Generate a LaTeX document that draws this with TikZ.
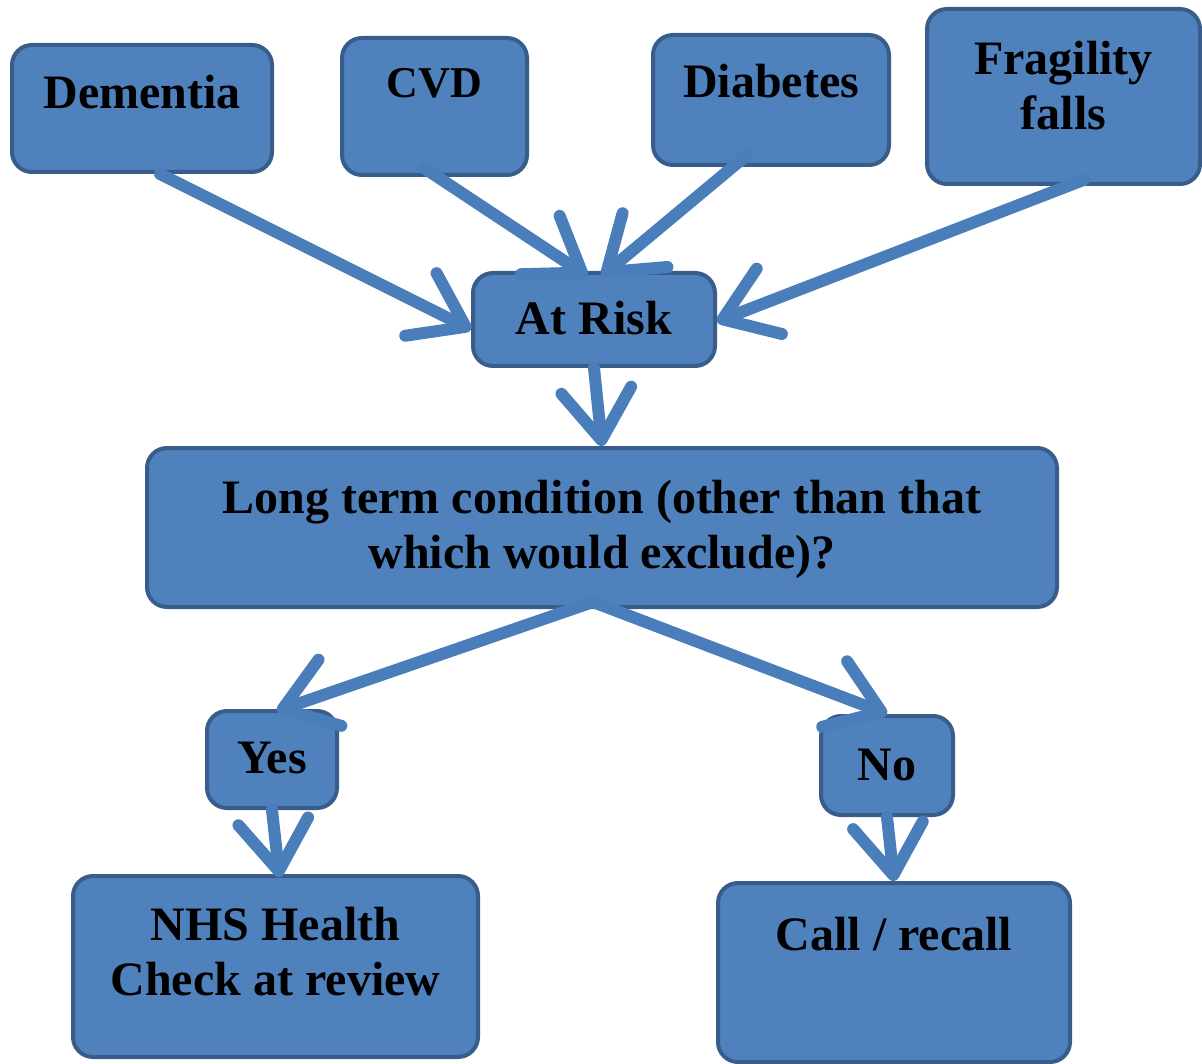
\documentclass[tikz,border=0pt]{standalone}
\usepackage{fontspec}
\setmainfont{Liberation Serif}
\usetikzlibrary{arrows.meta,calc,positioning}
\definecolor{boxFill}{HTML}{4F81BD}
\definecolor{boxEdge}{HTML}{385D8A}
\definecolor{arrowBlue}{HTML}{4A7EBB}
\tikzset{
    flowbox/.style={draw=boxEdge,fill=boxFill,line width=4pt,rounded corners=20pt,inner sep=0pt},
    boxtext/.style={anchor=base,align=center,inner sep=0pt,font=\fontsize{48}{55}\selectfont\bfseries},
    flowarrow/.style={draw=arrowBlue,line width=12pt,line cap=round,
        -{Straight Barb[length=50pt,width=70pt,line width=12pt,round]}}
}
\newcommand\FLOWBOX[7] {
    % #1 name, #2..#5 left top right bottom, #6 last baseline, #7 text
    \pgfmathsetmacro{\bw}{#4-#2}
    \pgfmathsetmacro{\bh}{#5-#3}
    \pgfmathsetmacro{\cx}{(#2+#4)/2}
    \pgfmathsetmacro{\cy}{(#3+#5)/2}
    \node[flowbox,minimum width=\bw pt,minimum height=\bh pt] (#1) at (\cx,\cy) { };
    \node[boxtext] (#1_text) at (\cx,#6) {#7};
}

\begin{document}
\begin{tikzpicture}[x=1pt,y=-1pt]
    \useasboundingbox (0,0) rectangle (1202,1064);

    % Conditions on top.
    \FLOWBOX{dementia}{12}{45}{272}{172}{109}{Dementia}
    \FLOWBOX{cvd}{342}{38}{527}{175}{98}{\fontsize{44}{48}\selectfont CVD}
    \FLOWBOX{diabetes}{653}{35}{889}{165}{98}{Diabetes}
    \FLOWBOX{fragility}{927}{9}{1200}{184}{130}{Fragility\\falls}

    % Middle of the flow.
    \FLOWBOX{risk}{473}{273}{715}{366}{335}{At Risk}
    \FLOWBOX{ltc}{147}{448}{1057}{607}{568}{Long term condition (other than that\\which would exclude)?}

    % Answers and outcomes.
    \FLOWBOX{yes}{207}{711}{337}{808}{773}{Yes}
    \FLOWBOX{no}{821}{716}{953}{815}{780}{No}
    \FLOWBOX{nhs}{73}{876}{478}{1057}{995}{NHS Health\\Check at review}
    \FLOWBOX{recall}{718}{883}{1070}{1062}{950}{Call / recall}

    % Arrows.
    \draw[flowarrow] ([xshift=18pt]dementia.south) -- ([yshift=-10pt]risk.west);
    \draw[flowarrow] ([shift={(-12pt,10pt)}]cvd.south) -- ([shift={(-7pt,-5pt)}]risk.north);
    \draw[flowarrow] ([shift={(-24pt,12pt)}]diabetes.south) -- ([shift={(8pt,-5pt)}]risk.north);
    \draw[flowarrow] ([shift={(20pt,6pt)}]fragility.south) -- ([yshift=-2pt]risk.east);
    \draw[flowarrow] (risk.south) -- (ltc.north);
    \draw[flowarrow] ([shift={(-9pt,7pt)}]ltc.south) -- ([shift={(5pt,-2pt)}]yes.north);
    \draw[flowarrow] ([shift={(-9pt,7pt)}]ltc.south) -- (no.north);
    \draw[flowarrow] (yes.south) -- ([shift={(4pt,-3pt)}]nhs.north);
    \draw[flowarrow] (no.south) -- (recall.north);
\end{tikzpicture}
\end{document}
